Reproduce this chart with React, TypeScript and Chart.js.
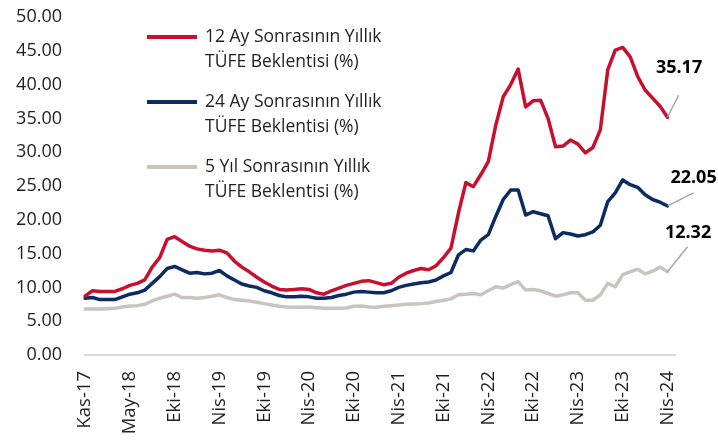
import React, { useEffect, useRef } from "react";
import { Chart, registerables } from "chart.js";

Chart.register(...registerables);

// ---- data ----
const tickLabels = [
  "Kas-17", "May-18", "Eki-18", "Nis-19", "Eki-19", "Nis-20", "Eki-20",
  "Nis-21", "Eki-21", "Nis-22", "Eki-22", "Nis-23", "Eki-23", "Nis-24",
];
const pointsPerTick = 6;
const slotCount = 80;

const seriesNames = [
  ["12 Ay Sonrasının Yıllık", "TÜFE Beklentisi (%)"],
  ["24 Ay Sonrasının Yıllık", "TÜFE Beklentisi (%)"],
  ["5 Yıl Sonrasının Yıllık", "TÜFE Beklentisi (%)"],
];

const expect12m = [
  8.7, 9.5, 9.4, 9.4, 9.4, 9.8, 10.3, 10.6, 11.1, 13.0,
  14.4, 17.1, 17.5, 16.8, 16.1, 15.7, 15.5, 15.4, 15.5, 15.1,
  13.9, 13.0, 12.3, 11.5, 10.8, 10.2, 9.7, 9.6, 9.7, 9.8,
  9.7, 9.2, 9.0, 9.5, 9.9, 10.3, 10.6, 10.9, 11.0, 10.7,
  10.4, 10.6, 11.5, 12.1, 12.5, 12.8, 12.6, 13.2, 14.4, 15.8,
  21.0, 25.5, 24.9, 26.7, 28.6, 34.0, 38.2, 40.0, 42.3, 36.7,
  37.6, 37.7, 35.0, 30.8, 30.9, 31.8, 31.2, 29.9, 30.7, 33.3,
  42.2, 45.1, 45.5, 44.1, 41.2, 39.2, 38.0, 36.8, 35.17,
];

const expect24m = [
  8.4, 8.5, 8.2, 8.2, 8.2, 8.6, 9.0, 9.2, 9.6, 10.6,
  11.6, 12.8, 13.1, 12.6, 12.1, 12.2, 12.0, 12.1, 12.5, 11.7,
  11.1, 10.5, 10.2, 10.0, 9.5, 9.2, 8.8, 8.6, 8.6, 8.7,
  8.6, 8.4, 8.4, 8.5, 8.8, 9.0, 9.3, 9.4, 9.3, 9.2,
  9.2, 9.5, 10.0, 10.3, 10.5, 10.7, 10.8, 11.1, 11.7, 12.2,
  14.8, 15.6, 15.4, 17.0, 17.8, 20.5, 23.0, 24.4, 24.4, 20.7,
  21.2, 20.9, 20.6, 17.2, 18.1, 17.9, 17.6, 17.8, 18.2, 19.2,
  22.7, 24.0, 25.9, 25.2, 24.8, 23.7, 23.0, 22.6, 22.05,
];

const expect5y = [
  6.8, 6.8, 6.8, 6.85, 6.9, 7.1, 7.25, 7.3, 7.5, 8.0,
  8.4, 8.7, 9.0, 8.5, 8.5, 8.4, 8.5, 8.7, 8.9, 8.5,
  8.2, 8.1, 8.0, 7.8, 7.6, 7.4, 7.2, 7.1, 7.05, 7.05,
  7.1, 7.0, 6.9, 6.9, 6.9, 6.95, 7.2, 7.25, 7.1, 7.05,
  7.2, 7.3, 7.4, 7.5, 7.55, 7.6, 7.7, 7.9, 8.1, 8.3,
  8.9, 9.0, 9.1, 8.9, 9.5, 10.1, 9.9, 10.4, 10.85, 9.6,
  9.7, 9.5, 9.1, 8.7, 8.9, 9.2, 9.2, 8.1, 8.1, 8.9,
  10.6, 10.1, 11.9, 12.3, 12.7, 12.0, 12.4, 13.0, 12.32,
];

const yMin = 0;
const yMax = 50;
const yStep = 5;

// ---- styles ----
const FONT = "'Open Sans', 'Noto Sans', sans-serif";
const TEXT = "#1f1f1f";
const COLORS = ["#C8102E", "#0B2B61", "#C9C5BE"];
const LEADER_OFFSETS = [
  { dx: 11, dy: -22, lx: 11.5, ly: -49 },
  { dx: 26, dy: -13, lx: 26, ly: -28 },
  { dx: 20, dy: -25, lx: 20.5, ly: -39 },
];

const categories = Array.from({ length: slotCount }, (_, i) =>
  i % pointsPerTick === 0 && i / pointsPerTick < tickLabels.length
    ? tickLabels[i / pointsPerTick]
    : ""
);

const pad = (arr: number[]) =>
  Array.from({ length: slotCount }, (_, i) => (i < arr.length ? arr[i] : null));

const endLabelPlugin = {
  id: "endLabels",
  afterDatasetsDraw(chart: any) {
    const ctx = chart.ctx;
    chart.data.datasets.forEach((ds: any, di: number) => {
      const meta = chart.getDatasetMeta(di);
      let last = -1;
      ds.data.forEach((v: any, i: number) => {
        if (v !== null && v !== undefined) last = i;
      });
      if (last < 0) return;
      const pt = meta.data[last];
      const o = LEADER_OFFSETS[di];
      ctx.save();
      ctx.strokeStyle = "#A6A6A6";
      ctx.lineWidth = 1.5;
      ctx.beginPath();
      ctx.moveTo(pt.x, pt.y);
      ctx.lineTo(pt.x + o.dx, pt.y + o.dy);
      ctx.stroke();
      ctx.fillStyle = "#000";
      ctx.font = `bold 18px ${FONT}`;
      ctx.textAlign = "center";
      ctx.textBaseline = "middle";
      ctx.fillText(Number(ds.data[last]).toFixed(2), pt.x + o.lx, pt.y + o.ly);
      ctx.restore();
    });
  },
};

const legendPlugin = {
  id: "customLegend",
  afterDraw(chart: any) {
    const ctx = chart.ctx;
    const x0 = 147;
    const lineLen = 50;
    const textX = 205;
    const startY = 37;
    const gap = 65;
    const lh = 25;
    ctx.save();
    seriesNames.forEach((lines, i) => {
      const y = startY + i * gap;
      ctx.strokeStyle = COLORS[i];
      ctx.lineWidth = 4;
      ctx.lineCap = "butt";
      ctx.beginPath();
      ctx.moveTo(x0, y);
      ctx.lineTo(x0 + lineLen, y);
      ctx.stroke();
      ctx.fillStyle = TEXT;
      ctx.font = `17.5px ${FONT}`;
      ctx.textAlign = "left";
      ctx.textBaseline = "middle";
      lines.forEach((t, j) => ctx.fillText(t, textX, y + j * lh));
    });
    ctx.restore();
  },
};

export default function App() {
  const ref = useRef<HTMLCanvasElement | null>(null);

  useEffect(() => {
    if (!ref.current) return;
    const series = [expect12m, expect24m, expect5y];
    const chart = new Chart(ref.current, {
      type: "line",
      data: {
        labels: categories,
        datasets: series.map((s, i) => ({
          label: seriesNames[i].join(" "),
          data: pad(s),
          borderColor: COLORS[i],
          backgroundColor: COLORS[i],
          borderWidth: 3.5,
          pointRadius: 0,
          tension: 0,
          order: i,
          borderJoinStyle: "round" as const,
          borderCapStyle: "round" as const,
        })),
      },
      options: {
        animation: false,
        responsive: true,
        maintainAspectRatio: false,
        layout: { padding: { top: 17, right: 43, bottom: 0, left: 0 } },
        plugins: {
          legend: { display: false },
          tooltip: { enabled: false },
        },
        scales: {
          x: {
            type: "category",
            grid: { display: false, drawTicks: false },
            border: { display: true, color: "#D9D9D9", width: 2 },
            ticks: {
              autoSkip: false,
              maxRotation: 90,
              minRotation: 90,
              padding: 16,
              color: TEXT,
              font: { family: FONT, size: 18.5 },
            },
            afterFit: (s: any) => {
              s.height = 86;
            },
          },
          y: {
            min: yMin,
            max: yMax,
            grid: { display: false, drawTicks: true, tickLength: 23 },
            border: { display: false },
            ticks: {
              stepSize: yStep,
              padding: 0,
              color: TEXT,
              font: { family: FONT, size: 18 },
              callback: (v: any) => Number(v).toFixed(2),
            },
            afterFit: (s: any) => {
              s.width = 85;
            },
          },
        },
      },
      plugins: [endLabelPlugin, legendPlugin],
    });
    return () => chart.destroy();
  }, []);

  return (
    <div style={{ position: "absolute", left: 0, top: 0, width: 718, height: 441, background: "#fff" }}>
      <canvas ref={ref} />
    </div>
  );
}
